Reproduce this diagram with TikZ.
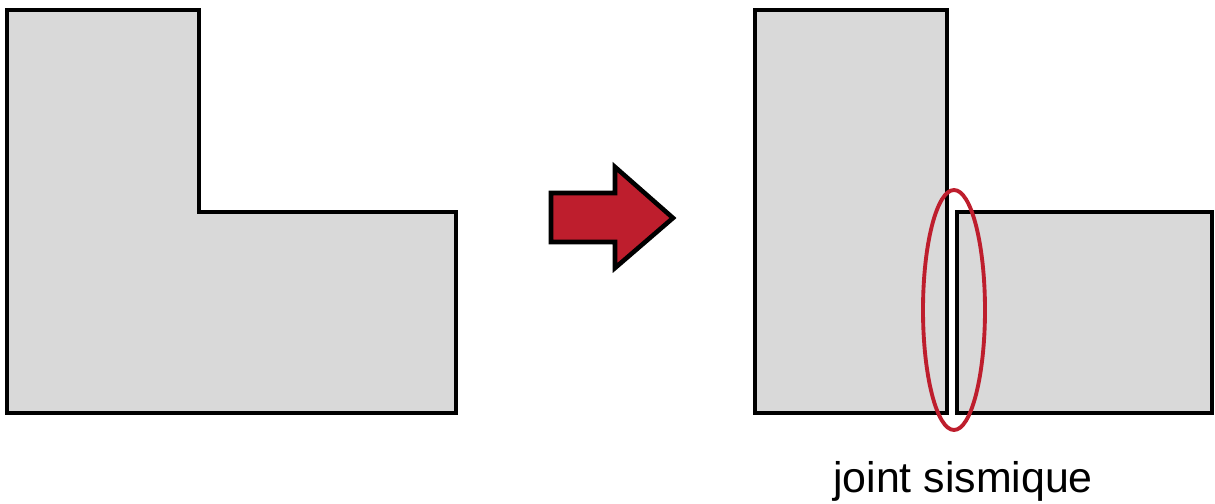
\documentclass[tikz,border=0pt]{standalone}
\usepackage{fontspec}
\setmainfont{Liberation Sans}
\usetikzlibrary{calc}
\definecolor{wallgray}{HTML}{D9D9D9}
\definecolor{jointred}{HTML}{BE1E2D}
\tikzset{
  bloc/.style={draw=black, line width=2.6pt, fill=wallgray, line join=miter},
  fleche/.style={draw=black, line width=2.6pt, fill=jointred, line join=miter},
  repere/.style={draw=jointred, line width=2.2pt}
}

\begin{document}
\begin{tikzpicture}
\useasboundingbox (0,0) rectangle (24.3,10.08);
% batiment en L d'un seul tenant
\draw [bloc] (0.14,9.88)--(3.98,9.88)--(3.98,5.84)--(9.12,5.84)--(9.12,1.82)--(0.14,1.82)--cycle;
% fleche de passage
\draw [fleche] (11.02,6.22)--(12.3,6.22)--(12.3,6.74)--(13.46,5.72)--(12.3,4.72)--(12.3,5.24)--(11.02,5.24)--cycle;
% deux blocs separes par le joint
\draw [bloc] (15.1,1.82) rectangle (18.94,9.88);
\draw [bloc] (19.14,1.82) rectangle (24.24,5.84);
\coordinate (joint) at (19.08,3.88);
\draw [repere] (joint) ellipse [x radius=0.62, y radius=2.4];
\node (legende) [anchor=base, inner sep=0pt, font=\fontsize{24.4}{28}\selectfont] at (19.26,0.22) {joint sismique};
\end{tikzpicture}
\end{document}
